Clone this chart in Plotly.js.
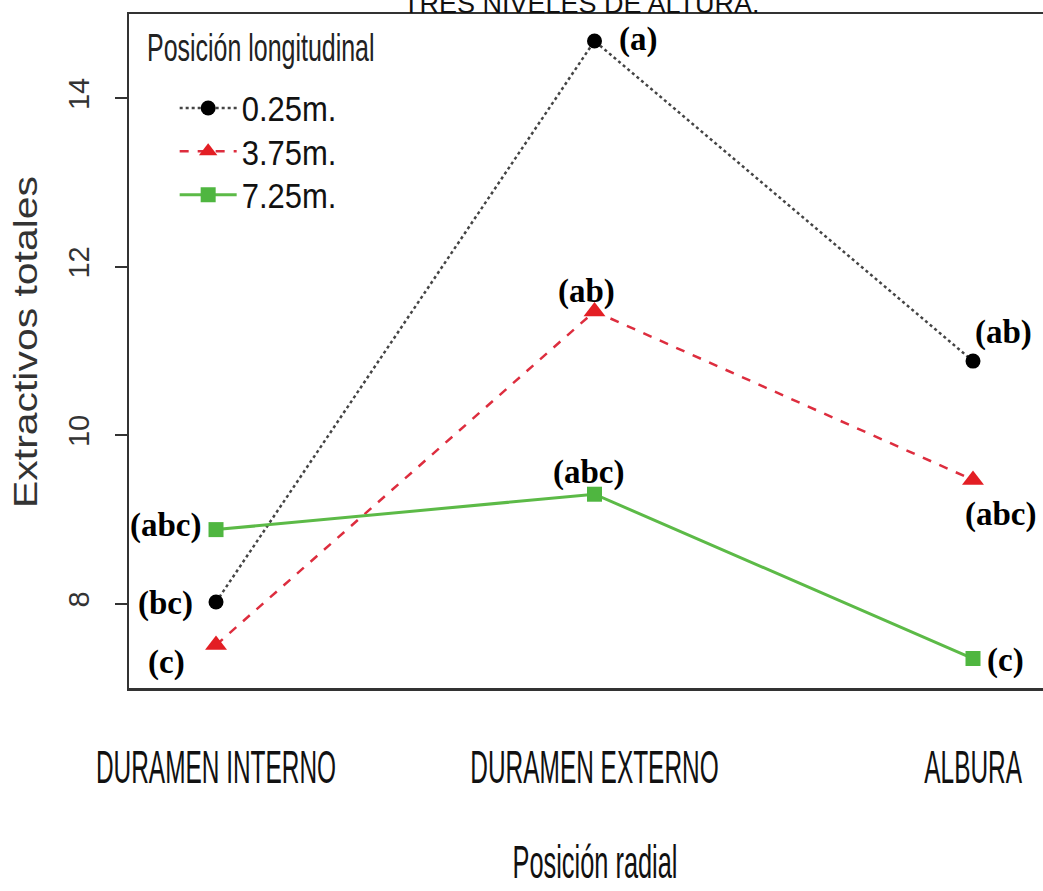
<!DOCTYPE html>
<html>
<head>
<meta charset="utf-8">
<script src="https://cdn.plot.ly/plotly-3.0.1.min.js"></script>
<style>
html, body { margin: 0; padding: 0; overflow: hidden; background: #fff; }
#chart { width: 1061px; height: 891px; }
</style>
</head>
<body>
<div id="chart"></div>
<script>
// ---- data ----
const categories = ['DURAMEN INTERNO', 'DURAMEN EXTERNO', 'ALBURA'];
const seriesNames = ['0.25m.', '3.75m.', '7.25m.'];
const y025 = [8.02, 14.68, 10.88];
const y375 = [7.51, 11.47, 9.47];
const y725 = [8.88, 9.30, 7.35];
const letters025 = ['(bc)', '(a)', '(ab)'];
const letters375 = ['(c)', '(ab)', '(abc)'];
const letters725 = ['(abc)', '(abc)', '(c)'];
const yTicks = [8, 10, 12, 14];
const chartTitle = 'TRES NIVELES DE ALTURA.';
const legendTitle = 'Posición longitudinal';
const xTitle = 'Posición radial';
const yTitle = 'Extractivos totales';

// ---- styling ----
const sans = '"Liberation Sans", Arial, sans-serif';
const serif = '"Liberation Serif", "Times New Roman", serif';
const axisCol = '#333333';

const traces = [
  {
    x: categories, y: y025, name: seriesNames[0], type: 'scatter', mode: 'lines+markers',
    line: {color: '#444444', width: 2.5, dash: 'dot'},
    marker: {symbol: 'circle', size: 15, color: '#000000'}
  },
  {
    x: categories, y: y375, name: seriesNames[1], type: 'scatter', mode: 'lines+markers',
    line: {color: '#dd2d3e', width: 2.5, dash: 'dash'},
    marker: {symbol: 'triangle-up', size: 19, color: '#e31e24'}
  },
  {
    x: categories, y: y725, name: seriesNames[2], type: 'scatter', mode: 'lines+markers',
    line: {color: '#5cba47', width: 3},
    marker: {symbol: 'square', size: 15, color: '#4fb640'}
  }
];

// label offsets (px) per series/category
const shifts = [
  [[-51, -1], [43, 1], [30, 29]],
  [[-50, -17], [-8, 20], [27, -35]],
  [[-51, 4], [-6, 22], [32, -2]]
];
const ys = [y025, y375, y725];
const letters = [letters025, letters375, letters725];
const annotations = [];
for (let s = 0; s < 3; s++) {
  for (let c = 0; c < categories.length; c++) {
    annotations.push({
      x: categories[c], y: ys[s][c], xref: 'x', yref: 'y',
      text: letters[s][c], showarrow: false,
      xshift: shifts[s][c][0], yshift: shifts[s][c][1],
      font: {family: serif, size: 33, color: '#000', weight: 'bold'}
    });
  }
}
annotations.push({
  text: chartTitle, showarrow: false,
  xref: 'paper', yref: 'paper', x: 0.485, y: 1, yanchor: 'middle', yshift: 10,
  font: {family: sans, size: 27, color: '#111'}
});
annotations.push({
  text: legendTitle, showarrow: false,
  xref: 'paper', yref: 'paper', x: 0.1416, y: 0.9496, xanchor: 'center', yanchor: 'middle',
  font: {family: sans, size: 39, color: '#222'}
});

const layout = {
  width: 1061, height: 891,
  margin: {l: 129, r: 0, t: 14, b: 203},
  paper_bgcolor: '#ffffff', plot_bgcolor: '#ffffff',
  showlegend: true,
  legend: {
    x: 0.049, y: 0.900, xanchor: 'left', yanchor: 'top',
    bgcolor: 'rgba(0,0,0,0)',
    font: {family: sans, size: 31, color: '#111'},
    itemwidth: 57, tracegroupgap: 0
  },
  xaxis: {
    type: 'category', range: [-0.2299, 2.2325],
    showgrid: false, zeroline: false,
    showline: true, linecolor: axisCol, linewidth: 2.5, mirror: true,
    ticks: '', ticklabelstandoff: 36, tickangle: 0,
    tickfont: {family: sans, size: 47, color: '#111'},
    title: {text: xTitle, font: {family: sans, size: 47, color: '#111'}, standoff: 53}
  },
  yaxis: {
    range: [7, 15], tickvals: yTicks, ticktext: yTicks.map(String),
    showgrid: false, zeroline: false,
    showline: true, linecolor: axisCol, linewidth: 2.5, mirror: false,
    ticks: 'outside', ticklen: 12, tickwidth: 2, tickcolor: axisCol,
    tickangle: -90, ticklabelstandoff: 14,
    tickfont: {family: sans, size: 29, color: '#333'},
    title: {text: yTitle, font: {family: sans, size: 33, color: '#333'}, standoff: 16}
  },
  annotations: annotations
};

// compress / stretch text about its own centre (text stays real text);
// dx, dy are extra offsets in the text's own coordinates
function stretch(nodes, sx, sy, dx = 0, dy = 0) {
  nodes.forEach(el => {
    const bb = el.getBBox();
    const cx = bb.x + bb.width / 2, cy = bb.y + bb.height / 2;
    const t = el.getAttribute('transform') || '';
    el.setAttribute('transform',
      `${t} translate(${cx + dx},${cy + dy}) scale(${sx},${sy}) translate(${-cx},${-cy})`);
  });
}

Plotly.newPlot('chart', traces, layout, {displayModeBar: false, staticPlot: true}).then(gd => {
  const q = s => Array.from(gd.querySelectorAll(s));
  stretch(q('.xtick text'), 0.52, 1);
  stretch(q('.g-xtitle text'), 0.54, 1);
  stretch(q('.g-ytitle text'), 1.24, 1, 9, 0);
  stretch(q('.legendtext'), 1, 1.12);
  stretch(q('.annotation-text').filter(e => e.textContent === legendTitle), 0.64, 1);
});
</script>
</body>
</html>
